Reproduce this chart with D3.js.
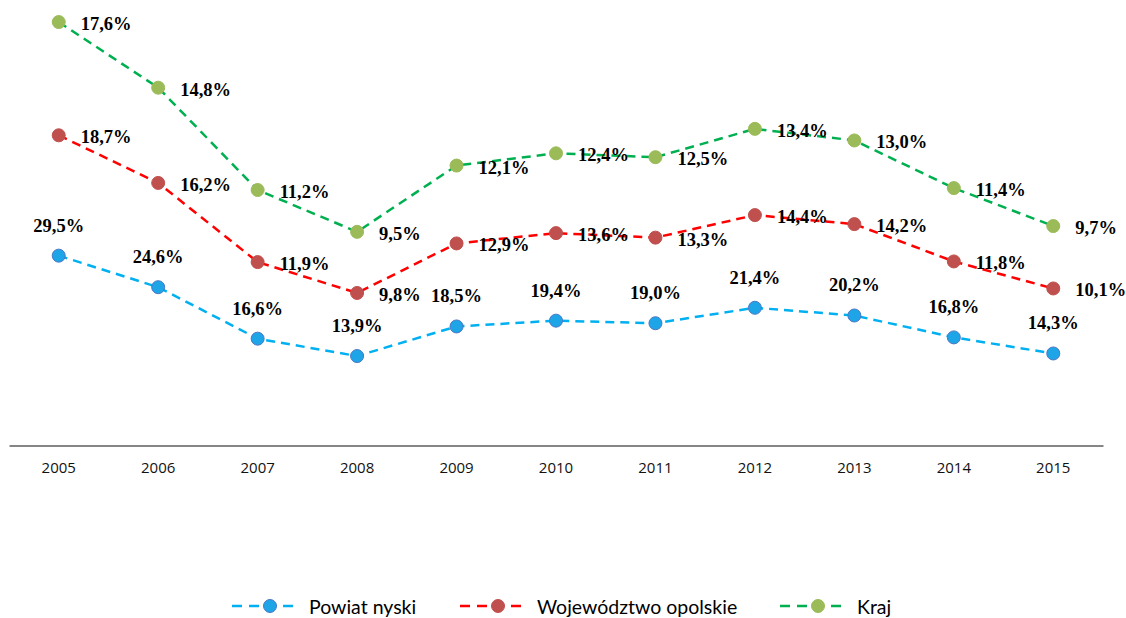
<!DOCTYPE html>
<html>
<head>
<meta charset="utf-8">
<script src="https://cdn.jsdelivr.net/npm/d3@7"></script>
<style>
  body { margin: 0; background: #fff; }
  svg { display: block; }
</style>
</head>
<body>
<div class="chart"></div>
<script>
const years = ["2005", "2006", "2007", "2008", "2009", "2010", "2011", "2012", "2013", "2014", "2015"];
const powiat = [29.5, 24.6, 16.6, 13.9, 18.5, 19.4, 19.0, 21.4, 20.2, 16.8, 14.3];
const wojewodztwo = [18.7, 16.2, 11.9, 9.8, 12.9, 13.6, 13.3, 14.4, 14.2, 11.8, 10.1];
const kraj = [17.6, 14.8, 11.2, 9.5, 12.1, 12.4, 12.5, 13.4, 13.0, 11.4, 9.7];
const seriesNames = ["Powiat nyski", "Województwo opolskie", "Kraj"];

const W = 1126, H = 618;
const series = [
  { key: "p", name: seriesNames[0], values: powiat, line: "#00b0f0", fill: "#1ea5e8", stroke: "#4a78c4", labelPos: "above" },
  { key: "w", name: seriesNames[1], values: wojewodztwo, line: "#ff0000", fill: "#c0504d", stroke: "#c0504d", labelPos: "right" },
  { key: "k", name: seriesNames[2], values: kraj, line: "#00b050", fill: "#9bbb59", stroke: "#9bbb59", labelPos: "right" }
];

// stacked lines, like the original
const table = years.map((y, i) => {
  const row = { year: y };
  series.forEach(s => row[s.key] = s.values[i]);
  return row;
});
const stacked = d3.stack().keys(series.map(s => s.key))(table);

const x = d3.scaleBand().domain(years).range([9, 1103]);
const y = d3.scaleLinear().domain([0, 70]).range([445.5, -5]);
const cx = d => x(d) + x.bandwidth() / 2;

const svg = d3.select(".chart").append("svg").attr("width", W).attr("height", H);

// axis
const xAxis = svg.append("g").attr("transform", "translate(0," + y(0) + ")")
  .call(d3.axisBottom(x).tickSize(0).tickPadding(17));
xAxis.select(".domain").attr("stroke", "#868686").attr("stroke-width", 2);
xAxis.selectAll("text")
  .attr("font-family", "'Open Sans', sans-serif")
  .attr("font-size", 15)
  .attr("fill", "#111");

const line = d3.line().x(d => cx(d.data.year)).y(d => y(d[1]));

stacked.forEach((layer, li) => {
  const s = series[li];
  svg.append("path")
    .datum(layer)
    .attr("fill", "none")
    .attr("stroke", s.line)
    .attr("stroke-width", 2.5)
    .attr("stroke-dasharray", "9,6")
    .attr("d", line);
  svg.append("g").selectAll("circle")
    .data(layer)
    .enter()
    .append("circle")
    .attr("cx", d => cx(d.data.year))
    .attr("cy", d => y(d[1]))
    .attr("r", 6.5)
    .attr("fill", s.fill)
    .attr("stroke", s.stroke)
    .attr("stroke-width", 1);
});

const fmt = v => v.toFixed(1).replace(".", ",") + "%";

stacked.forEach((layer, li) => {
  const s = series[li];
  svg.append("g").selectAll("text")
    .data(layer)
    .enter()
    .append("text")
    .attr("x", d => s.labelPos === "above" ? cx(d.data.year) : cx(d.data.year) + 22)
    .attr("y", d => s.labelPos === "above" ? y(d[1]) - 30 : y(d[1]) + 2)
    .attr("text-anchor", s.labelPos === "above" ? "middle" : "start")
    .attr("dominant-baseline", "central")
    .attr("font-family", "'Liberation Serif', 'Times New Roman', serif")
    .attr("font-weight", "bold")
    .attr("font-size", 18.5)
    .attr("fill", "#000")
    .text(d => fmt(d.data[s.key]));
});

// legend
const legendX = [232, 460, 780];
const legend = svg.append("g").selectAll("g")
  .data(series)
  .enter()
  .append("g")
  .attr("transform", (d, i) => "translate(" + legendX[i] + ",606)");
legend.append("line")
  .attr("x1", 0).attr("x2", 64).attr("y1", 0).attr("y2", 0)
  .attr("stroke", d => d.line)
  .attr("stroke-width", 2.5)
  .attr("stroke-dasharray", "10,7");
legend.append("circle")
  .attr("cx", 38).attr("cy", 0).attr("r", 6.5)
  .attr("fill", d => d.fill)
  .attr("stroke", d => d.stroke);
legend.append("text")
  .attr("x", 77)
  .attr("y", 0)
  .attr("dominant-baseline", "central")
  .attr("font-family", "Lato, sans-serif")
  .attr("font-size", 19.5)
  .attr("fill", "#000")
  .text(d => d.name);
</script>
</body>
</html>
